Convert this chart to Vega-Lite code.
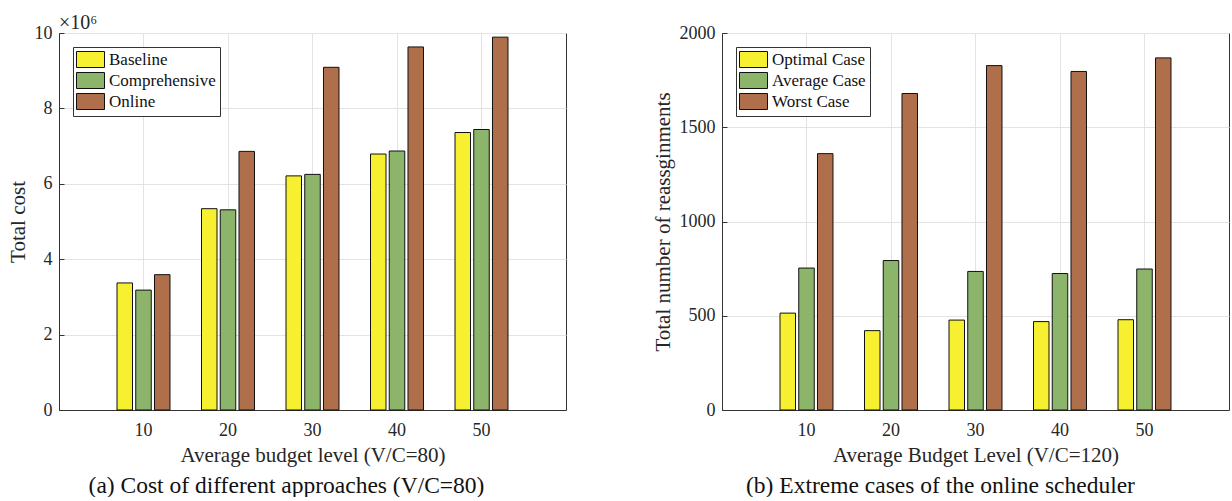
{
  "$schema": "https://vega.github.io/schema/vega-lite/v6.json",
  "background": "white",
  "padding": {"left": 6, "top": 12, "right": 2, "bottom": 0},
  "spacing": 84,
  "resolve": {"scale": {"color": "independent", "xOffset": "independent"}, "legend": {"color": "independent"}},
  "config": {
    "font": "Liberation Serif",
    "view": {"stroke": "#333333", "strokeWidth": 1},
    "axis": {
      "labelFont": "Liberation Serif", "titleFont": "Liberation Serif",
      "labelColor": "#262626", "titleColor": "#262626",
      "labelFontSize": 18, "titleFontSize": 21, "titleFontWeight": "normal",
      "domainColor": "#333333", "domainWidth": 1,
      "tickColor": "#333333", "tickWidth": 1,
      "gridColor": "#e3e3e3", "gridWidth": 1
    },
    "title": {"font": "Liberation Serif", "fontSize": 23.5, "fontWeight": "normal", "color": "#111111", "orient": "bottom", "anchor": "middle", "frame": "bounds", "offset": 8}
  },
  "datasets": {
    "cost": [
      {"budget": "10", "approach": "Baseline", "cost": 3370000},
      {"budget": "10", "approach": "Comprehensive", "cost": 3180000},
      {"budget": "10", "approach": "Online", "cost": 3590000},
      {"budget": "20", "approach": "Baseline", "cost": 5340000},
      {"budget": "20", "approach": "Comprehensive", "cost": 5310000},
      {"budget": "20", "approach": "Online", "cost": 6860000},
      {"budget": "30", "approach": "Baseline", "cost": 6210000},
      {"budget": "30", "approach": "Comprehensive", "cost": 6250000},
      {"budget": "30", "approach": "Online", "cost": 9090000},
      {"budget": "40", "approach": "Baseline", "cost": 6790000},
      {"budget": "40", "approach": "Comprehensive", "cost": 6870000},
      {"budget": "40", "approach": "Online", "cost": 9630000},
      {"budget": "50", "approach": "Baseline", "cost": 7360000},
      {"budget": "50", "approach": "Comprehensive", "cost": 7440000},
      {"budget": "50", "approach": "Online", "cost": 9890000}
    ],
    "reass": [
      {"budget": "10", "case": "Optimal Case", "count": 514},
      {"budget": "10", "case": "Average Case", "count": 753},
      {"budget": "10", "case": "Worst Case", "count": 1360},
      {"budget": "20", "case": "Optimal Case", "count": 421},
      {"budget": "20", "case": "Average Case", "count": 793},
      {"budget": "20", "case": "Worst Case", "count": 1679},
      {"budget": "30", "case": "Optimal Case", "count": 477},
      {"budget": "30", "case": "Average Case", "count": 735},
      {"budget": "30", "case": "Worst Case", "count": 1827},
      {"budget": "40", "case": "Optimal Case", "count": 469},
      {"budget": "40", "case": "Average Case", "count": 724},
      {"budget": "40", "case": "Worst Case", "count": 1796},
      {"budget": "50", "case": "Optimal Case", "count": 479},
      {"budget": "50", "case": "Average Case", "count": 748},
      {"budget": "50", "case": "Worst Case", "count": 1868}
    ]
  },
  "hconcat": [
    {
      "title": {"text": "(a) Cost of different approaches (V/C=80)"},
      "vconcat": [
        {
          "width": 507, "height": 377,
          "title": {"text": "×10⁶", "orient": "top", "anchor": "start", "frame": "group", "fontSize": 20, "color": "#262626", "offset": -9},
          "data": {"name": "cost"},
          "mark": {"type": "bar", "stroke": "#111111", "strokeWidth": 1},
          "encoding": {
            "x": {"field": "budget", "type": "ordinal", "sort": ["10","20","30","40","50"],
              "scale": {"paddingInner": 0.3728, "paddingOuter": 0.6864},
              "axis": {"orient": "bottom", "title": "Average budget level (V/C=80)", "labelAngle": 0, "ticks": false, "grid": true, "bandPosition": 0.5, "labelPadding": 11, "titlePadding": 5}},
            "xOffset": {"field": "approach", "type": "nominal", "sort": ["Baseline","Comprehensive","Online"],
              "scale": {"paddingInner": 0.173, "paddingOuter": 0}},
            "y": {"field": "cost", "type": "quantitative",
              "scale": {"domain": [0, 10000000], "nice": false},
              "axis": {"orient": "left", "title": "Total cost", "values": [0, 2000000, 4000000, 6000000, 8000000, 10000000], "labelExpr": "datum.value / 1000000", "grid": true, "tickSize": -5, "labelPadding": 12, "titlePadding": 6}},
            "color": {"field": "approach", "type": "nominal", "sort": ["Baseline","Comprehensive","Online"],
              "scale": {"domain": ["Baseline","Comprehensive","Online"], "range": ["#f6f031", "#8cb46a", "#af6f4a"]},
              "legend": {"title": null, "orient": "top-left", "offset": 14, "padding": 4, "strokeColor": "#333333", "fillColor": "white",
                "labelFont": "Liberation Serif", "labelFontSize": 17, "labelColor": "#111111",
                "symbolType": "M-1.125,-1H2.375V1H-1.125Z", "symbolSize": 256, "symbolStrokeColor": "#111111", "symbolStrokeWidth": 1, "symbolOpacity": 1,
                "labelOffset": 15, "rowPadding": 0}}
          }
        }
      ]
    },
    {
      "title": {"text": "(b) Extreme cases of the online scheduler"},
      "vconcat": [
        {
          "width": 507, "height": 377,
          "title": {"text": " ", "orient": "top", "anchor": "start", "frame": "group", "fontSize": 20, "color": "#262626", "offset": -9},
          "data": {"name": "reass"},
          "mark": {"type": "bar", "stroke": "#111111", "strokeWidth": 1},
          "encoding": {
            "x": {"field": "budget", "type": "ordinal", "sort": ["10","20","30","40","50"],
              "scale": {"paddingInner": 0.3728, "paddingOuter": 0.6864},
              "axis": {"orient": "bottom", "title": "Average Budget Level (V/C=120)", "labelAngle": 0, "ticks": false, "grid": true, "bandPosition": 0.5, "labelPadding": 11, "titlePadding": 5}},
            "xOffset": {"field": "case", "type": "nominal", "sort": ["Optimal Case","Average Case","Worst Case"],
              "scale": {"paddingInner": 0.173, "paddingOuter": 0}},
            "y": {"field": "count", "type": "quantitative",
              "scale": {"domain": [0, 2000], "nice": false},
              "axis": {"orient": "left", "title": "Total number of reassginments", "values": [0, 500, 1000, 1500, 2000], "format": "d", "grid": true, "tickSize": -5, "labelPadding": 12, "titlePadding": 6}},
            "color": {"field": "case", "type": "nominal", "sort": ["Optimal Case","Average Case","Worst Case"],
              "scale": {"domain": ["Optimal Case","Average Case","Worst Case"], "range": ["#f6f031", "#8cb46a", "#af6f4a"]},
              "legend": {"title": null, "orient": "top-left", "offset": 14, "padding": 4, "strokeColor": "#333333", "fillColor": "white",
                "labelFont": "Liberation Serif", "labelFontSize": 17, "labelColor": "#111111",
                "symbolType": "M-1.125,-1H2.375V1H-1.125Z", "symbolSize": 256, "symbolStrokeColor": "#111111", "symbolStrokeWidth": 1, "symbolOpacity": 1,
                "labelOffset": 15, "rowPadding": 0}}
          }
        }
      ]
    }
  ]
}
